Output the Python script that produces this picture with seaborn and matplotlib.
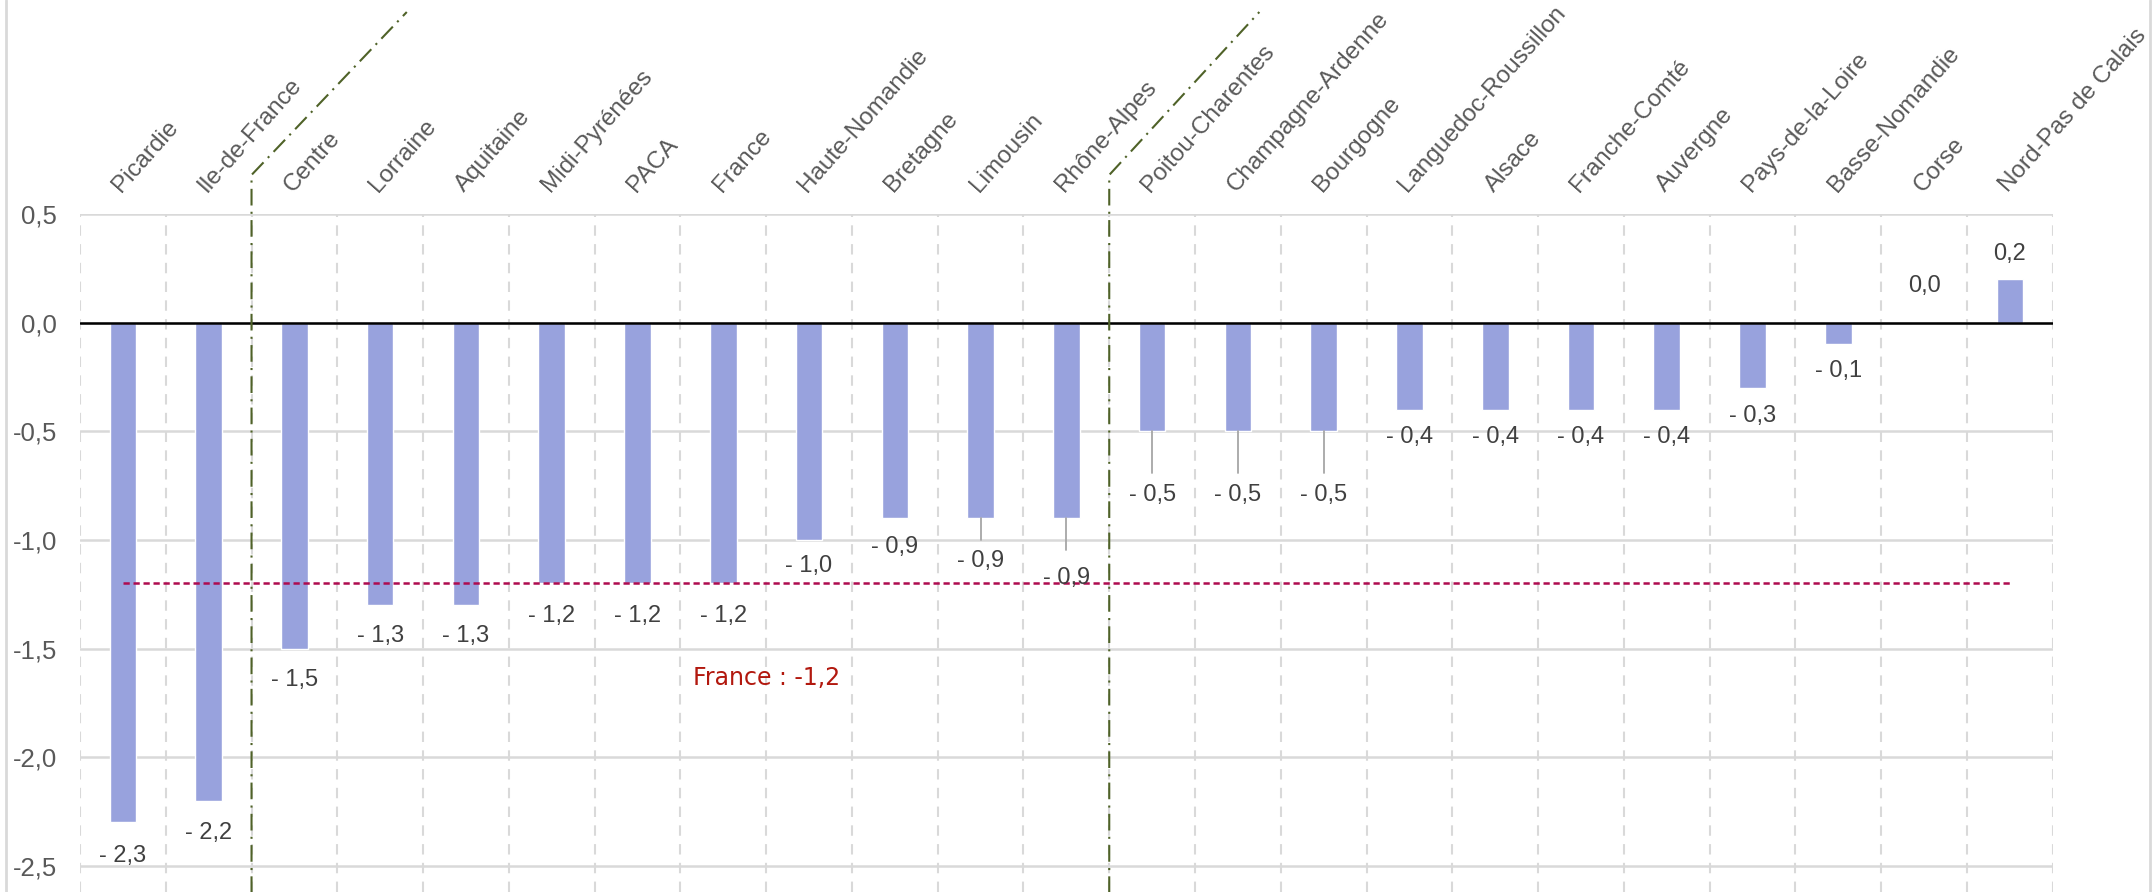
import numpy as np
import pandas as pd
import seaborn as sns
from matplotlib import pyplot as plt
from matplotlib import ticker as tkr
from matplotlib import transforms as mtr
from matplotlib.lines import Line2D

sns.set_style("white")
plt.rcParams['font.family'] = ['Liberation Sans', 'DejaVu Sans']

regions = ['Picardie', 'Ile-de-France', 'Centre', 'Lorraine', 'Aquitaine', 'Midi-Pyrénées',
           'PACA', 'France', 'Haute-Nomandie', 'Bretagne', 'Limousin', 'Rhône-Alpes',
           'Poitou-Charentes', 'Champagne-Ardenne', 'Bourgogne', 'Languedoc-Roussillon',
           'Alsace', 'Franche-Comté', 'Auvergne', 'Pays-de-la-Loire', 'Basse-Nomandie',
           'Corse', 'Nord-Pas de Calais']
values = [-2.3, -2.2, -1.5, -1.3, -1.3, -1.2, -1.2, -1.2, -1.0, -0.9, -0.9, -0.9,
          -0.5, -0.5, -0.5, -0.4, -0.4, -0.4, -0.4, -0.3, -0.1, 0.0, 0.2]
france_value = -1.2
yticks = [0.5, 0.0, -0.5, -1.0, -1.5, -2.0, -2.5]

# label placement (offset from bar end, in data units) and leader lines
label_offset = [-0.156, -0.148, -0.146, -0.143, -0.143, -0.148, -0.148, -0.148, -0.12, -0.13,
                -0.195, -0.277, -0.291, -0.291, -0.291, -0.125, -0.125, -0.125, -0.125,
                -0.13, -0.12, 0.17, 0.116]
leaders = {10: -0.10, 11: -0.145, 12: -0.19, 13: -0.19, 14: -0.19}

df = pd.DataFrame({'region': regions, 'value': values})

fig = plt.figure(figsize=(21.56, 8.92), dpi=100)
ax = fig.add_axes([0.0371, 0.0, 0.915, 0.760])

sns.barplot(data=df, x='region', y='value', order=regions, color='#98A2DD',
            saturation=1, width=0.31, ax=ax, zorder=3)

ax.set_xlim(-0.5, len(regions) - 0.5)
ax.set_ylim(-2.62, 0.5)
for s in ax.spines.values():
    s.set_visible(False)

# grids
ax.set_yticks(yticks)
ax.yaxis.set_major_formatter(tkr.FuncFormatter(lambda v, p: ('%.1f' % v).replace('.', ',').replace('-0,0', '0,0')))
ax.yaxis.grid(True, color='#D9D9D9', lw=1.8, zorder=0)
ax.set_xticks(np.arange(-0.5, len(regions), 1), minor=True)
ax.xaxis.grid(True, which='minor', color='#D9D9D9', lw=1.5, linestyle=(0, (5, 4)), zorder=0)
ax.xaxis.grid(False, which='major')
ax.tick_params(axis='y', length=0, pad=16.5, labelsize=18.5, labelcolor='#595959')
ax.axhline(0, color='black', lw=1.8, zorder=4)

# top category labels
ax.xaxis.tick_top()
ax.set_xlabel('')
ax.set_ylabel('')
ax.tick_params(axis='x', which='both', length=0, pad=13, labelsize=17.5, labelcolor='#595959')
ax.set_xticks(range(len(regions)))
ax.set_xticklabels(regions, rotation=48.5, ha='left', va='bottom', rotation_mode='anchor')
shift = mtr.ScaledTranslation(0.02, 0, fig.dpi_scale_trans)
for lab in ax.get_xticklabels():
    lab.set_transform(lab.get_transform() + shift)

# data labels
for i, v in enumerate(values):
    txt = ('%.1f' % abs(v)).replace('.', ',')
    if v < 0:
        txt = '- ' + txt
    ax.text(i, v + label_offset[i], txt, ha='center', va='center', fontsize=17,
            color='#404040', zorder=5)
    if i in leaders:
        ax.plot([i, i], [v, v + leaders[i]], color='#A6A6A6', lw=1.3, zorder=4)

# France reference
ax.plot([0, len(regions) - 1], [france_value, france_value], color='#AE0B4F',
        lw=1.8, linestyle=(0, (2.5, 1.5)), zorder=4)
ax.text(7.5, -1.633, 'France : -1,2', ha='center', va='center', fontsize=17,
        color='#B2180E', family=['DejaVu Sans'])

# group separators
green = '#4F6228'
for xb, xt in [(1.5, 3.31), (11.5, 13.25)]:
    ax.plot([xb, xb, xt], [-2.7, 0.68, 1.43], color=green, lw=1.5,
            linestyle=(0, (8, 3, 1, 3)), clip_on=False, zorder=6)

# frame lines of the original picture
fig.add_artist(Line2D([0.003, 0.003], [0, 1], transform=fig.transFigure, color='#D9D9D9', lw=2))
fig.add_artist(Line2D([0.997, 0.997], [0, 1], transform=fig.transFigure, color='#D9D9D9', lw=2))

fig.savefig('out.png', dpi=100)
